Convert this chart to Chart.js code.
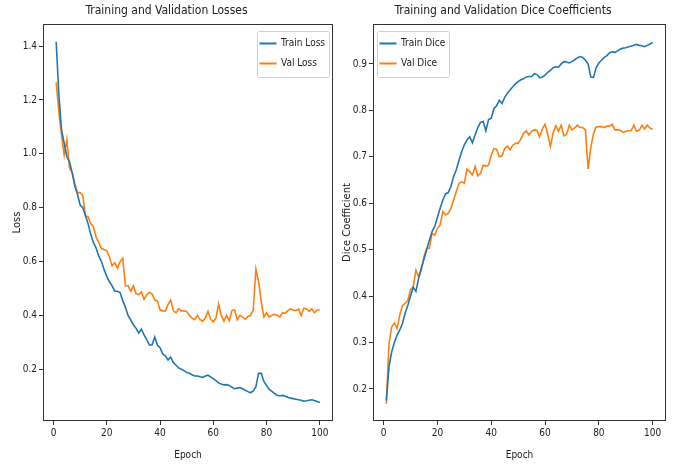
<!DOCTYPE html>
<html>
<head>
<meta charset="utf-8">
<script src="https://cdn.jsdelivr.net/npm/chart.js@4.4.0/dist/chart.umd.min.js"></script>
<style>
  html, body { margin: 0; padding: 0; background: #fff; }
  #wrap { position: relative; width: 683px; height: 468px; }
  canvas { position: absolute; top: 0; }
</style>
</head>
<body>
<div id="wrap">
  <canvas id="lossChart" width="340" height="468" style="left:0"></canvas>
  <canvas id="diceChart" width="343" height="468" style="left:340px"></canvas>
</div>
<script>
const epochs = Array.from({length: 100}, (_, i) => i + 1);

const trainLoss = [1.416,1.22,1.09,1.04,0.99,0.97,0.93,0.88,0.85,0.81,
  0.80,0.77,0.74,0.70,0.67,0.65,0.62,0.60,0.57,0.545,
  0.525,0.51,0.49,0.49,0.485,0.455,0.43,0.40,0.383,0.365,
  0.352,0.334,0.349,0.328,0.31,0.29,0.29,0.32,0.29,0.28,
  0.257,0.25,0.235,0.245,0.225,0.215,0.205,0.20,0.195,0.188,
  0.185,0.18,0.175,0.175,0.172,0.17,0.175,0.178,0.172,0.165,
  0.158,0.15,0.145,0.142,0.143,0.14,0.133,0.128,0.13,0.132,
  0.128,0.122,0.117,0.113,0.12,0.135,0.185,0.185,0.155,0.14,
  0.125,0.118,0.11,0.103,0.102,0.103,0.10,0.096,0.093,0.091,
  0.089,0.087,0.085,0.082,0.083,0.085,0.087,0.084,0.08,0.077];

const valLoss = [1.265,1.156,1.07,0.995,1.053,0.946,0.93,0.89,0.856,0.856,
  0.845,0.77,0.766,0.74,0.73,0.69,0.67,0.648,0.645,0.64,
  0.617,0.584,0.596,0.575,0.60,0.612,0.51,0.51,0.49,0.51,
  0.48,0.477,0.487,0.46,0.477,0.485,0.48,0.457,0.454,0.42,
  0.417,0.417,0.44,0.457,0.417,0.41,0.425,0.417,0.417,0.415,
  0.40,0.39,0.384,0.40,0.385,0.378,0.39,0.415,0.386,0.376,
  0.39,0.443,0.40,0.378,0.40,0.38,0.418,0.42,0.384,0.40,
  0.394,0.386,0.396,0.40,0.42,0.572,0.526,0.452,0.394,0.41,
  0.394,0.40,0.405,0.40,0.394,0.41,0.408,0.418,0.424,0.42,
  0.418,0.424,0.40,0.427,0.424,0.415,0.424,0.41,0.42,0.42];

const trainDice = [0.175,0.248,0.28,0.30,0.316,0.327,0.341,0.363,0.38,0.40,
  0.419,0.41,0.438,0.46,0.48,0.50,0.52,0.539,0.55,0.57,
  0.589,0.607,0.62,0.623,0.636,0.657,0.672,0.692,0.711,0.726,
  0.736,0.743,0.73,0.747,0.763,0.774,0.776,0.756,0.78,0.783,
  0.804,0.81,0.822,0.815,0.828,0.837,0.844,0.851,0.857,0.862,
  0.866,0.868,0.872,0.873,0.873,0.879,0.877,0.87,0.872,0.876,
  0.882,0.886,0.892,0.894,0.893,0.90,0.905,0.904,0.902,0.905,
  0.909,0.913,0.916,0.914,0.908,0.90,0.872,0.871,0.892,0.902,
  0.908,0.914,0.918,0.924,0.926,0.925,0.928,0.932,0.934,0.935,
  0.937,0.938,0.94,0.942,0.94,0.939,0.937,0.94,0.943,0.946];

const valDice = [0.168,0.298,0.334,0.342,0.33,0.359,0.38,0.384,0.391,0.414,
  0.42,0.456,0.442,0.456,0.485,0.503,0.503,0.535,0.531,0.546,
  0.553,0.582,0.575,0.578,0.589,0.607,0.625,0.643,0.646,0.643,
  0.673,0.668,0.661,0.679,0.659,0.664,0.682,0.68,0.682,0.704,
  0.718,0.716,0.70,0.702,0.718,0.723,0.715,0.725,0.729,0.729,
  0.738,0.75,0.756,0.747,0.755,0.758,0.757,0.743,0.76,0.77,
  0.748,0.722,0.752,0.767,0.755,0.768,0.745,0.748,0.768,0.758,
  0.762,0.768,0.763,0.763,0.758,0.674,0.72,0.75,0.764,0.765,
  0.765,0.763,0.766,0.766,0.77,0.758,0.758,0.757,0.752,0.755,
  0.756,0.756,0.768,0.755,0.757,0.768,0.76,0.768,0.762,0.759];

const xTicks = [0, 20, 40, 60, 80, 100];
const lossTicks = [0.2, 0.4, 0.6, 0.8, 1.0, 1.2, 1.4];
const diceTicks = [0.2, 0.3, 0.4, 0.5, 0.6, 0.7, 0.8, 0.9];

const NARROW = '"Liberation Sans Narrow", "DejaVu Sans Condensed", "Liberation Sans", sans-serif';
const BLUE = '#1f77b4';
const ORANGE = '#ff7f0e';
const INK = '#222';

// box around the axes + matplotlib style legend inside the plot
const frameLegend = {
  id: 'frameLegend',
  afterDraw(chart, args, opts) {
    const {ctx, chartArea: a} = chart;
    ctx.save();
    ctx.strokeStyle = '#333';
    ctx.lineWidth = 1;
    ctx.strokeRect(a.left + 0.5, a.top + 0.5, a.right - a.left - 1, a.bottom - a.top - 1);

    ctx.font = '10px ' + NARROW;
    const sets = chart.data.datasets;
    let tw = 0;
    sets.forEach(d => { tw = Math.max(tw, ctx.measureText(d.label).width); });
    const w = Math.round(24 + tw + 4), h = 46;
    const x = opts.side === 'right' ? a.right - 4 - w : a.left + 4;
    const y = a.top + 7;
    ctx.fillStyle = 'rgba(255,255,255,0.8)';
    ctx.strokeStyle = '#d0d0d0';
    ctx.beginPath();
    ctx.roundRect(x + 0.5, y + 0.5, w, h, 2);
    ctx.fill();
    ctx.stroke();
    sets.forEach((d, i) => {
      const cy = y + 12.5 + i * 20;
      ctx.strokeStyle = d.borderColor;
      ctx.lineWidth = 2;
      ctx.beginPath();
      ctx.moveTo(x + 2.5, cy);
      ctx.lineTo(x + 19.5, cy);
      ctx.stroke();
      ctx.fillStyle = INK;
      ctx.textBaseline = 'middle';
      ctx.fillText(d.label, x + 24, cy);
    });
    ctx.restore();
  }
};

function makeChart(id, title, yTitle, yMin, yMax, yTicks, yWidth, yTitlePad, padRight, series, side) {
  return new Chart(document.getElementById(id), {
    type: 'line',
    data: {
      datasets: series.map(s => ({
        label: s.label,
        data: epochs.map((e, i) => ({x: e, y: s.values[i]})),
        borderColor: s.color,
        borderWidth: 1.6,
        pointRadius: 0,
        tension: 0,
        fill: false
      }))
    },
    options: {
      responsive: false,
      animation: false,
      layout: {padding: {left: 0, right: padRight, top: 0, bottom: 0}},
      plugins: {
        legend: {display: false},
        tooltip: {enabled: false},
        title: {
          display: true,
          text: title,
          color: INK,
          font: {family: NARROW, size: 12, weight: 'normal'},
          padding: {top: 4, bottom: 5.6}
        },
        frameLegend: {side: side}
      },
      scales: {
        x: {
          type: 'linear',
          min: -3.95,
          max: 104.95,
          afterBuildTicks: s => { s.ticks = xTicks.map(v => ({value: v})); },
          afterFit: s => { s.height = 47; },
          grid: {display: true, drawOnChartArea: false, tickLength: 4, color: '#333'},
          border: {display: false},
          ticks: {color: INK, font: {family: NARROW, size: 10}, padding: 2, autoSkip: false, maxRotation: 0},
          title: {display: true, text: 'Epoch', color: INK, font: {family: NARROW, size: 10}, padding: {top: 0, bottom: 7}}
        },
        y: {
          type: 'linear',
          min: yMin,
          max: yMax,
          afterBuildTicks: s => { s.ticks = yTicks.map(v => ({value: v})); },
          afterFit: s => { s.width = yWidth; },
          grid: {display: true, drawOnChartArea: false, tickLength: 4, color: '#333'},
          border: {display: false},
          ticks: {color: INK, font: {family: NARROW, size: 10}, padding: 2, autoSkip: false,
            callback: v => v.toFixed(1)},
          title: {display: true, text: yTitle, color: INK, font: {family: '"DejaVu Sans", sans-serif', size: 10}, padding: {top: yTitlePad, bottom: 0}}
        }
      }
    },
    plugins: [frameLegend]
  });
}

makeChart('lossChart', 'Training and Validation Losses', 'Loss', 0.008, 1.482, lossTicks, 43, 11.5, 7,
  [{label: 'Train Loss', values: trainLoss, color: BLUE},
   {label: 'Val Loss', values: valLoss, color: ORANGE}], 'right');

makeChart('diceChart', 'Training and Validation Dice Coefficients', 'Dice Coefficient', 0.131, 0.986, diceTicks, 33, 1, 17,
  [{label: 'Train Dice', values: trainDice, color: BLUE},
   {label: 'Val Dice', values: valDice, color: ORANGE}], 'left');
</script>
</body>
</html>
